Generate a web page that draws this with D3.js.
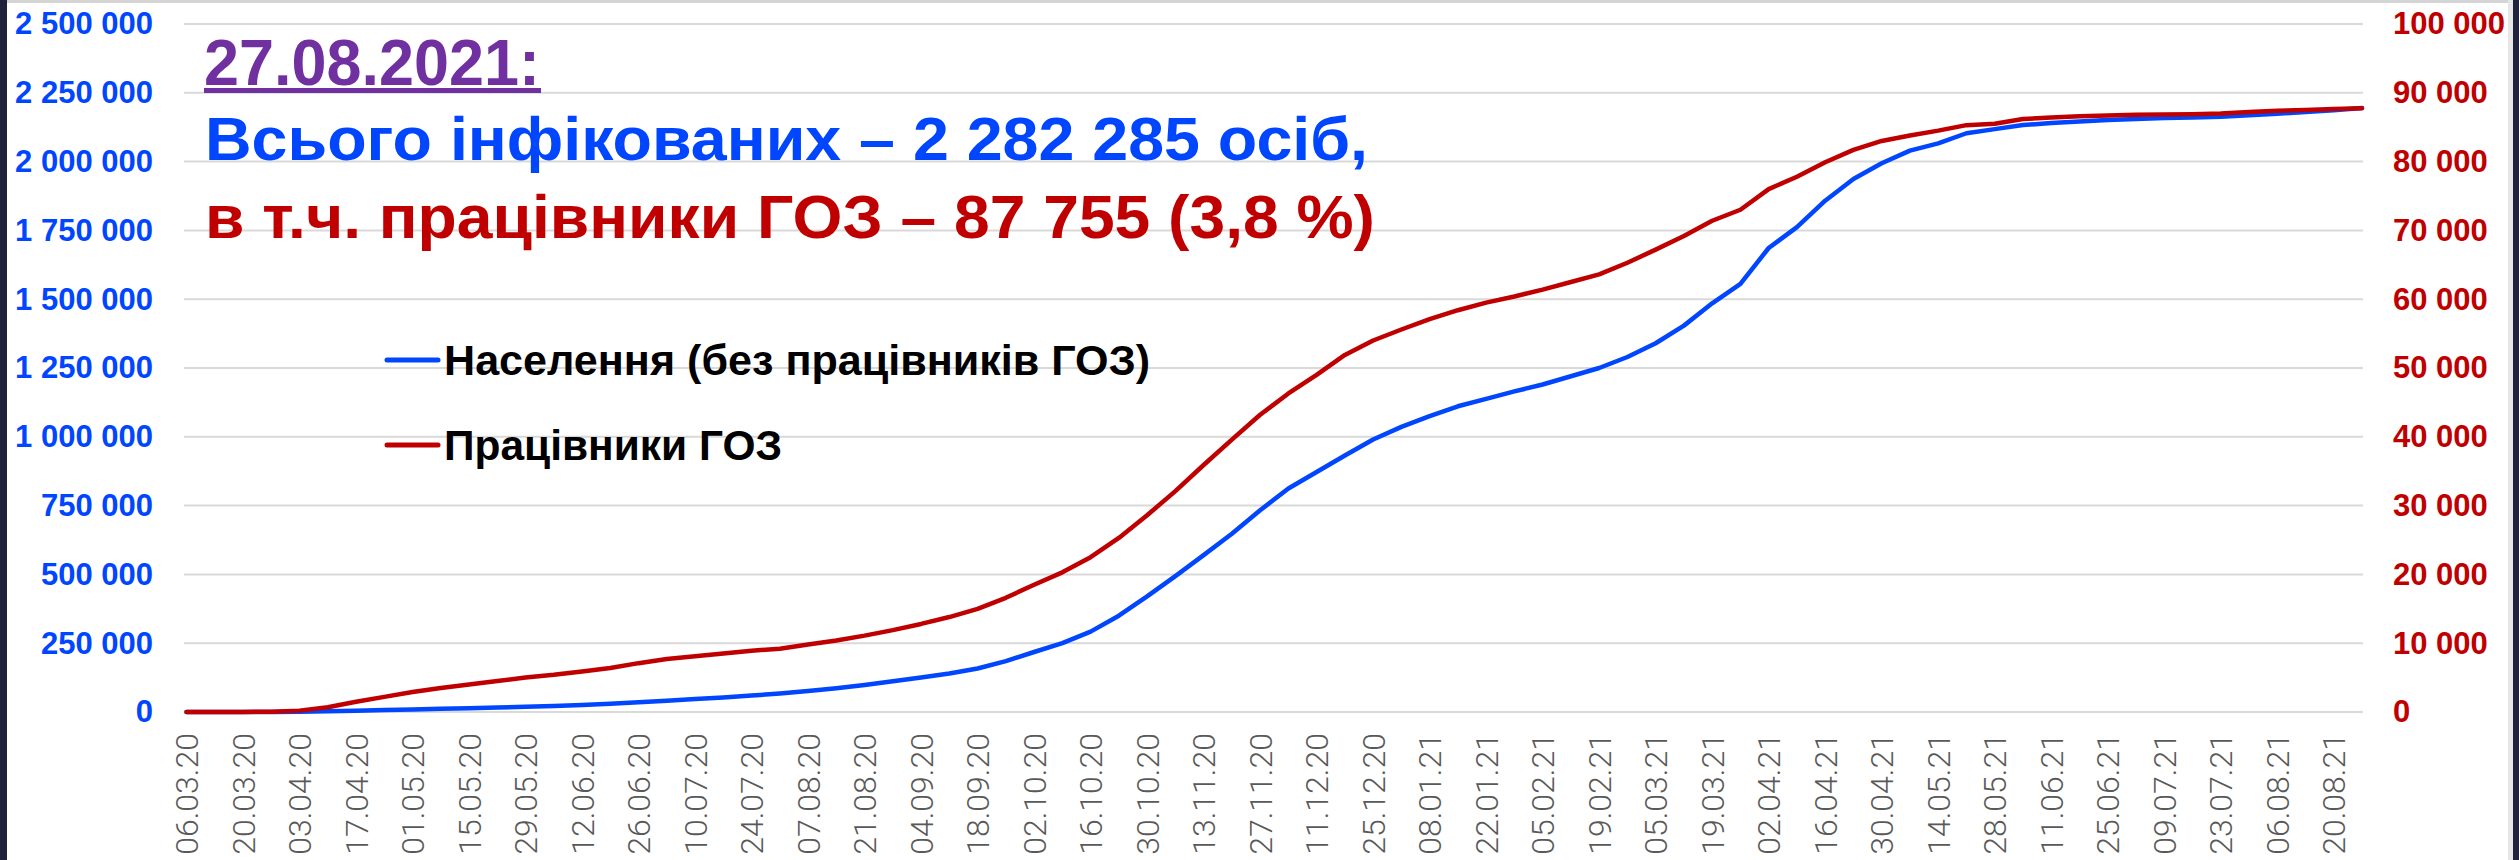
<!DOCTYPE html>
<html>
<head>
<meta charset="utf-8">
<script src="https://cdn.jsdelivr.net/npm/d3@7"></script>
<style>
html, body { margin: 0; padding: 0; background: #fff; }
svg { display: block; }
</style>
</head>
<body>
<svg id="chart" width="2519" height="860"></svg>
<script>
// weekly points (Fridays) from the first to the last date
const firstWeek = "06.03.20"
const lastWeek = "27.08.21"

const tickLabels = [
  "06.03.20", "20.03.20", "03.04.20", "17.04.20", "01.05.20", "15.05.20", "29.05.20",
  "12.06.20", "26.06.20", "10.07.20", "24.07.20", "07.08.20", "21.08.20", "04.09.20",
  "18.09.20", "02.10.20", "16.10.20", "30.10.20", "13.11.20", "27.11.20", "11.12.20",
  "25.12.20", "08.01.21", "22.01.21", "05.02.21", "19.02.21", "05.03.21", "19.03.21",
  "02.04.21", "16.04.21", "30.04.21", "14.05.21", "28.05.21", "11.06.21", "25.06.21",
  "09.07.21", "23.07.21", "06.08.21", "20.08.21"
]

// Населення (без працівників ГОЗ), left axis
const population = [
  0, 0, 50, 300, 1000, 2500, 4500, 7000, 9500, 12000,
  14000, 16500, 19000, 21500, 25000, 30000, 35000, 41000, 47000, 53000,
  60000, 67000, 76000, 86000, 98000, 112000, 125000, 140000, 158000, 185000,
  218000, 250000, 292000, 350000, 420000, 494000, 570000, 648000, 733000, 812000,
  872000, 932000, 990000, 1036000, 1075000, 1111000, 1138000, 1165000, 1190000, 1220000,
  1250000, 1290000, 1340000, 1404000, 1485000, 1556000, 1686000, 1762000, 1858000, 1937000,
  1994000, 2040000, 2066000, 2103000, 2118000, 2133000, 2140000, 2146000, 2151000, 2155000,
  2158000, 2160000, 2163000, 2168000, 2174000, 2180000, 2187000, 2194530
]

// Працівники ГОЗ, right axis
const healthWorkers = [
  0, 0, 0, 50, 200, 700, 1500, 2200, 2900, 3500,
  4000, 4500, 5000, 5400, 5900, 6400, 7100, 7700, 8100, 8500,
  8900, 9200, 9800, 10400, 11100, 11900, 12800, 13800, 15000, 16600,
  18500, 20300, 22500, 25300, 28600, 32100, 35900, 39600, 43200, 46300,
  49000, 51900, 54000, 55600, 57100, 58400, 59500, 60400, 61400, 62500,
  63600, 65300, 67200, 69200, 71400, 73000, 76000, 77800, 79900, 81700,
  83000, 83800, 84500, 85300, 85500, 86200, 86400, 86600, 86700, 86800,
  86850, 86900, 87000, 87200, 87400, 87500, 87650, 87755
]

const leftTicks = [0, 250000, 500000, 750000, 1000000, 1250000, 1500000, 1750000, 2000000, 2250000, 2500000]
const rightTicks = [0, 10000, 20000, 30000, 40000, 50000, 60000, 70000, 80000, 90000, 100000]

const titleDate = "27.08.2021:"
const titleTotal = "Всього інфікованих – 2 282 285 осіб,"
const titleWorkers = "в т.ч. працівники ГОЗ – 87 755 (3,8 %)"
const legendLabels = ["Населення (без працівників ГОЗ)", "Працівники ГОЗ"]

const blue = "#0046ff"
const red = "#c00000"
const boldFont = "'Liberation Sans', Arial, sans-serif"

let svg = d3.select("#chart")
let parse = d3.utcParse("%d.%m.%y")
let weeks = d3.utcFriday.range(parse(firstWeek), d3.utcDay.offset(parse(lastWeek), 1))
let fmt = d3.formatLocale({decimal: ",", thousands: " ", grouping: [3], currency: ["", ""]}).format(",")

let plotLeft = 184, plotRight = 2363, plotTop = 24, plotBottom = 712

let x = d3.scaleUtc()
    .domain([parse(firstWeek), parse(lastWeek)])
    .range([186.5, 2362])
let yL = d3.scaleLinear().domain([0, 2500000]).range([plotBottom, plotTop])
let yR = d3.scaleLinear().domain([0, 100000]).range([plotBottom, plotTop])

// frame
svg.append("rect").attr("x", 0).attr("y", 0).attr("width", 2519).attr("height", 3).attr("fill", "#d4d4d4")
svg.append("rect").attr("x", 0).attr("y", 0).attr("width", 7).attr("height", 860).attr("fill", "#20223d")
svg.append("rect").attr("x", 2508).attr("y", 0).attr("width", 5).attr("height", 860).attr("fill", "#e6e6e6")
svg.append("rect").attr("x", 2513).attr("y", 0).attr("width", 6).attr("height", 860).attr("fill", "#20223d")

// gridlines
svg.append("g")
  .selectAll("line")
  .data(leftTicks)
  .enter().append("line")
    .attr("x1", plotLeft)
    .attr("x2", plotRight)
    .attr("y1", d => yL(d))
    .attr("y2", d => yL(d))
    .attr("stroke", "#d9d9d9")
    .attr("stroke-width", 2)

// axes
let axisL = svg.append("g")
    .attr("transform", `translate(${plotLeft},0)`)
    .call(d3.axisLeft(yL).tickValues(leftTicks).tickFormat(fmt).tickSize(0).tickPadding(31))
let axisR = svg.append("g")
    .attr("transform", `translate(${plotRight},0)`)
    .call(d3.axisRight(yR).tickValues(rightTicks).tickFormat(fmt).tickSize(0).tickPadding(30))

axisL.selectAll("text").attr("fill", blue)
axisR.selectAll("text").attr("fill", red)
svg.selectAll(".domain").remove()
;[axisL, axisR].forEach(a => a
    .attr("font-family", boldFont)
    .attr("font-size", 31)
    .attr("font-weight", "bold"))

let axisB = svg.append("g")
    .attr("transform", `translate(0,${plotBottom})`)
    .call(d3.axisBottom(x).tickValues(tickLabels.map(parse)).tickFormat(d3.utcFormat("%d.%m.%y")).tickSize(0))
axisB.select(".domain").remove()
axisB.attr("font-family", "Roboto, sans-serif").attr("font-size", 32)
axisB.selectAll("text")
    .attr("fill", "#595959")
    .attr("font-weight", 300)
    .attr("transform", "rotate(-90)")
    .attr("x", -21)
    .attr("y", 0)
    .attr("dy", "0.35em")
    .attr("text-anchor", "end")

// series
let popLine = d3.line().x((d, i) => x(weeks[i])).y(d => yL(d))
let hcwLine = d3.line().x((d, i) => x(weeks[i])).y(d => yR(d))

svg.append("path")
    .datum(population)
    .attr("d", popLine)
    .attr("fill", "none")
    .attr("stroke", blue)
    .attr("stroke-width", 4.5)
    .attr("stroke-linejoin", "round")
    .attr("stroke-linecap", "round")

svg.append("path")
    .datum(healthWorkers)
    .attr("d", hcwLine)
    .attr("fill", "none")
    .attr("stroke", red)
    .attr("stroke-width", 4.5)
    .attr("stroke-linejoin", "round")
    .attr("stroke-linecap", "round")

// legend
let legend = svg.append("g")
  .selectAll("g")
  .data(legendLabels)
  .enter().append("g")
    .attr("transform", (d, i) => `translate(0,${i ? 445 : 360})`)

legend.append("line")
    .attr("x1", 387).attr("x2", 438)
    .attr("stroke", (d, i) => i ? red : blue)
    .attr("stroke-width", 5)
    .attr("stroke-linecap", "round")

legend.append("text")
    .attr("x", 444)
    .attr("y", 15)
    .attr("font-family", boldFont)
    .attr("font-size", 43)
    .attr("font-weight", "bold")
    .attr("fill", "#000")
    .attr("textLength", (d, i) => i ? 338 : 706)
    .attr("lengthAdjust", "spacingAndGlyphs")
    .text(d => d)

// title
let title = svg.append("g")
    .attr("font-family", boldFont)
    .attr("font-weight", "bold")

title.append("text")
    .attr("x", 204).attr("y", 85)
    .attr("font-size", 64)
    .attr("fill", "#7030a0")
    .attr("textLength", 336)
    .attr("lengthAdjust", "spacingAndGlyphs")
    .text(titleDate)
title.append("rect")
    .attr("x", 204).attr("y", 88)
    .attr("width", 337).attr("height", 5)
    .attr("fill", "#7030a0")

title.append("text")
    .attr("x", 205).attr("y", 160)
    .attr("font-size", 62)
    .attr("fill", blue)
    .attr("textLength", 1163)
    .attr("lengthAdjust", "spacingAndGlyphs")
    .text(titleTotal)

title.append("text")
    .attr("x", 205).attr("y", 238)
    .attr("font-size", 62)
    .attr("fill", red)
    .attr("textLength", 1170)
    .attr("lengthAdjust", "spacingAndGlyphs")
    .text(titleWorkers)
</script>
</body>
</html>
